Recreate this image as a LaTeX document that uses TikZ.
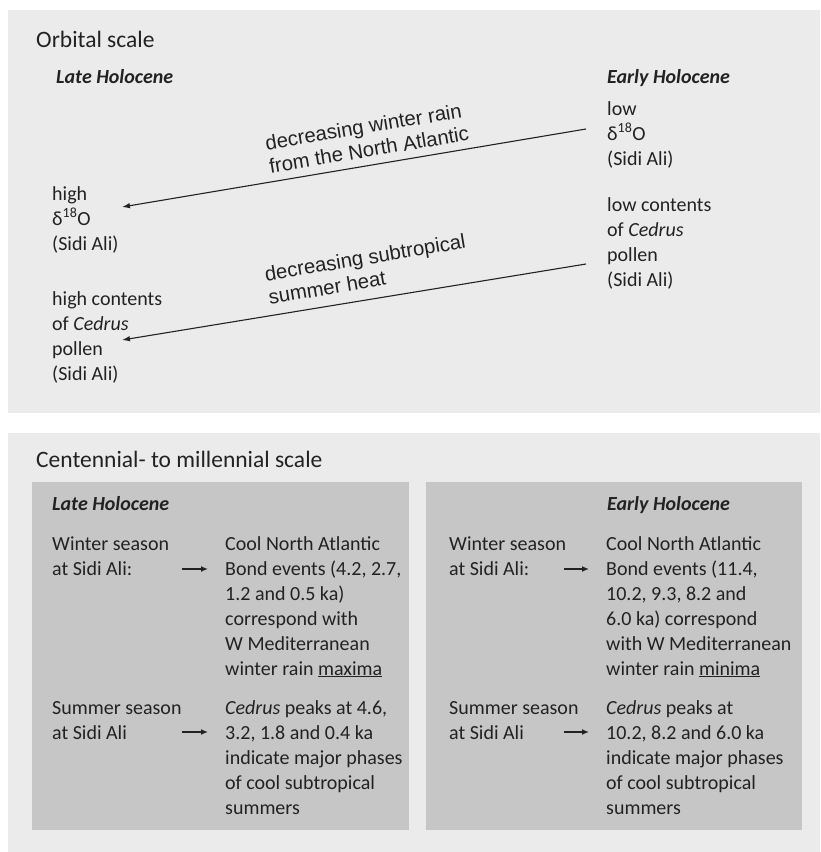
\documentclass[tikz,border=0pt]{standalone}
\usepackage{fontspec}
\setmainfont{Carlito}
\newfontfamily\arialf{Liberation Sans}
\usetikzlibrary{arrows.meta}
\definecolor{panel}{HTML}{EBEBEB}
\definecolor{innerbox}{HTML}{C6C6C6}
\definecolor{ink}{HTML}{222222}
\begin{document}
\begin{tikzpicture}[x=1pt,y=-1pt,
  txt/.style={anchor=base west, inner sep=0pt, align=left, font=\fontsize{20}{25}\selectfont, text=ink},
  head/.style={anchor=base west, inner sep=0pt, font=\fontsize{23.5}{28}\selectfont, text=ink},
  era/.style={anchor=base west, inner sep=0pt, font=\fontsize{20}{25}\selectfont\bfseries\itshape, text=ink},
  lbl/.style={inner sep=0pt, align=left, rotate=9.5, font=\arialf\fontsize{20.3}{23.5}\selectfont, text=ink},
  arr/.style={-{Latex[length=8pt,width=5.5pt]}, line width=1.1pt, draw=ink},
  sarr/.style={-{Latex[length=7pt,width=6pt]}, line width=1.4pt, draw=ink}]
\useasboundingbox (0,0) rectangle (820,852);
\fill[white] (0,0) rectangle (820,852);
\fill[panel] (8,10) rectangle (820,413);
\fill[panel] (8,433) rectangle (820,852);
\fill[innerbox] (32,482) rectangle (409,830);
\fill[innerbox] (426,482) rectangle (802,830);

% Orbital scale (multi-line nodes anchored at the baseline of their last line)
\node[head] (orb) at (36,47) {Orbital scale};
\node[era] (lateA) at (56,83) {Late Holocene};
\node[era] (earlyA) at (607,83) {Early Holocene};
\node[txt] (highd) at (52,250) {high\\δ\textsuperscript{18}O\\(Sidi Ali)};
\node[txt] (highc) at (52,380) {high contents\\of \textit{Cedrus}\\pollen\\(Sidi Ali)};
\node[txt] (lowd) at (607,165) {low\\δ\textsuperscript{18}O\\(Sidi Ali)};
\node[txt] (lowc) at (607,286) {low contents\\of \textit{Cedrus}\\pollen\\(Sidi Ali)};
\draw[arr] ([shift={(-21,-36)}]lowd.base west) -- ([shift={(70,-43)}]highd.base west);
\draw[arr] ([shift={(-21,-22)}]lowc.base west) -- ([shift={(70,-40)}]highc.base west);
\node[lbl] (lab1) at (367,138) {decreasing winter rain\\from the North Atlantic};
\node[lbl] (lab2) at (367,269) {decreasing subtropical\\summer heat};

% Centennial scale
\node[head] (cent) at (36,467) {Centennial- to millennial scale};
\node[era] (lateB) at (52,510) {Late Holocene};
\node[era] (earlyB) at (607,510) {Early Holocene};
\node[txt] (wl) at (52,575) {Winter season\\at Sidi Ali:};
\node[txt] (wlt) at (225,675) {Cool North Atlantic\\Bond events (4.2, 2.7,\\1.2 and 0.5 ka)\\correspond with\\W Mediterranean\\winter rain \underline{maxima}};
\node[txt] (sl) at (52,739) {Summer season\\at Sidi Ali};
\node[txt] (slt) at (225,814) {\textit{Cedrus} peaks at 4.6,\\3.2, 1.8 and 0.4 ka\\indicate major phases\\of cool subtropical\\summers};
\node[txt] (wr) at (449,575) {Winter season\\at Sidi Ali:};
\node[txt] (wrt) at (606,675) {Cool North Atlantic\\Bond events (11.4,\\10.2, 9.3, 8.2 and\\6.0 ka) correspond\\with W Mediterranean\\winter rain \underline{minima}};
\node[txt] (sr) at (449,739) {Summer season\\at Sidi Ali};
\node[txt] (srt) at (606,814) {\textit{Cedrus} peaks at\\10.2, 8.2 and 6.0 ka\\indicate major phases\\of cool subtropical\\summers};
\draw[sarr] ([shift={(130,-6)}]wl.base west) -- ([shift={(-17,-106)}]wlt.base west);
\draw[sarr] ([shift={(130,-7)}]sl.base west) -- ([shift={(-17,-82)}]slt.base west);
\draw[sarr] ([shift={(115,-6)}]wr.base west) -- ([shift={(-17,-106)}]wrt.base west);
\draw[sarr] ([shift={(115,-7)}]sr.base west) -- ([shift={(-17,-82)}]srt.base west);
\end{tikzpicture}
\end{document}
